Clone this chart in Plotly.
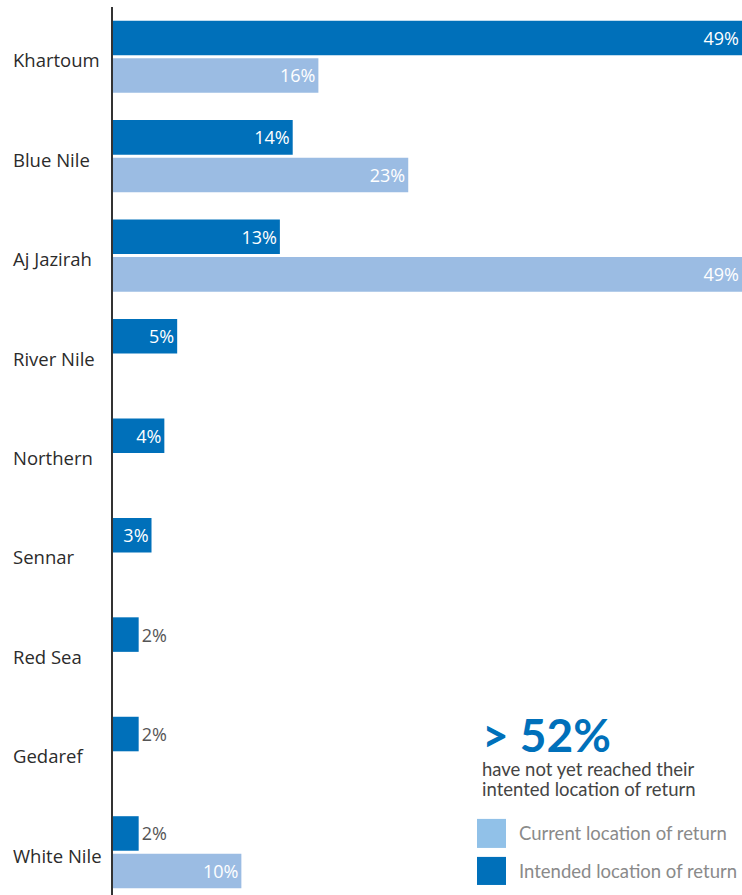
import plotly.graph_objects as go

regions = ["Khartoum", "Blue Nile", "Aj Jazirah", "River Nile", "Northern",
           "Sennar", "Red Sea", "Gedaref", "White Nile"]
intended = [49, 14, 13, 5, 4, 3, 2, 2, 2]
current = [16, 23, 49, 0, 0, 0, 0, 0, 10]

DARK = "#0070BA"
LIGHT = "#9BBCE3"

def labels(vals):
    return [f"{v}%" if v > 0 else "" for v in vals]

def positions(vals):
    return ["inside" if v >= 3 else "outside" for v in vals]

fig = go.Figure()
for name, vals, col in [("Intended location of return", intended, DARK),
                        ("Current location of return", current, LIGHT)]:
    fig.add_trace(go.Bar(
        y=regions, x=vals, orientation="h", name=name,
        marker=dict(color=col, line=dict(width=0)),
        text=labels(vals), textposition=positions(vals),
        insidetextanchor="end",
        insidetextfont=dict(color="white", size=18, family="Open Sans"),
        outsidetextfont=dict(color="#555555", size=18, family="Open Sans"),
        cliponaxis=False, showlegend=False, hoverinfo="skip",
    ))

# category labels, left aligned
for r in regions:
    fig.add_annotation(x=-0.1625, xref="paper", y=r, yref="y", text=r,
                       xanchor="left", yanchor="middle", yshift=-3, showarrow=False,
                       font=dict(family="Open Sans", size=18.5, color="#2b2b2b"))

# callout
fig.add_annotation(x=0.5835, xref="paper", y=0.181, yref="paper", text="<b>&gt; 52%</b>",
                   xanchor="left", yanchor="middle", showarrow=False,
                   font=dict(family="Lato", size=46, color=DARK))
for line, yp in [("have not yet reached their", 0.1415),
                 ("intented location of return", 0.119)]:
    fig.add_annotation(x=0.5835, xref="paper", y=yp, yref="paper", text=line,
                       xanchor="left", yanchor="middle", showarrow=False,
                       font=dict(family="Lato", size=18.5, color="#444444"))

# custom legend
legend_items = [("Current location of return", "#91C1E8", 0.0530, 0.0857),
                ("Intended location of return", DARK, 0.0113, 0.0429)]
for name, col, y0, y1 in legend_items:
    fig.add_shape(type="rect", xref="paper", yref="paper", x0=0.5787, x1=0.6248,
                  y0=y0, y1=y1, fillcolor=col, line=dict(width=0))
    fig.add_annotation(x=0.643, xref="paper", y=(y0 + y1) / 2, yref="paper", text=name,
                       xanchor="left", yanchor="middle", showarrow=False,
                       font=dict(family="Lato", size=18.5, color="#8a8a8a"))

fig.update_layout(
    width=742, height=895,
    margin=dict(l=113, r=0, t=7, b=0),
    paper_bgcolor="white", plot_bgcolor="white",
    barmode="group", bargap=0.245, bargroupgap=0.08,
    xaxis=dict(range=[0, 49], showgrid=False, zeroline=False, showticklabels=False,
               showline=False, ticks=""),
    yaxis=dict(type="category", categoryorder="array", categoryarray=regions,
               range=[8.43, -0.5], showgrid=False, zeroline=False,
               showticklabels=False, showline=True, linecolor="#333333", linewidth=2,
               ticks=""),
)

fig.write_html("out.html", config={"displayModeBar": False},
               post_script="document.body.style.margin='0';"
                           "document.body.style.overflow='hidden';")
